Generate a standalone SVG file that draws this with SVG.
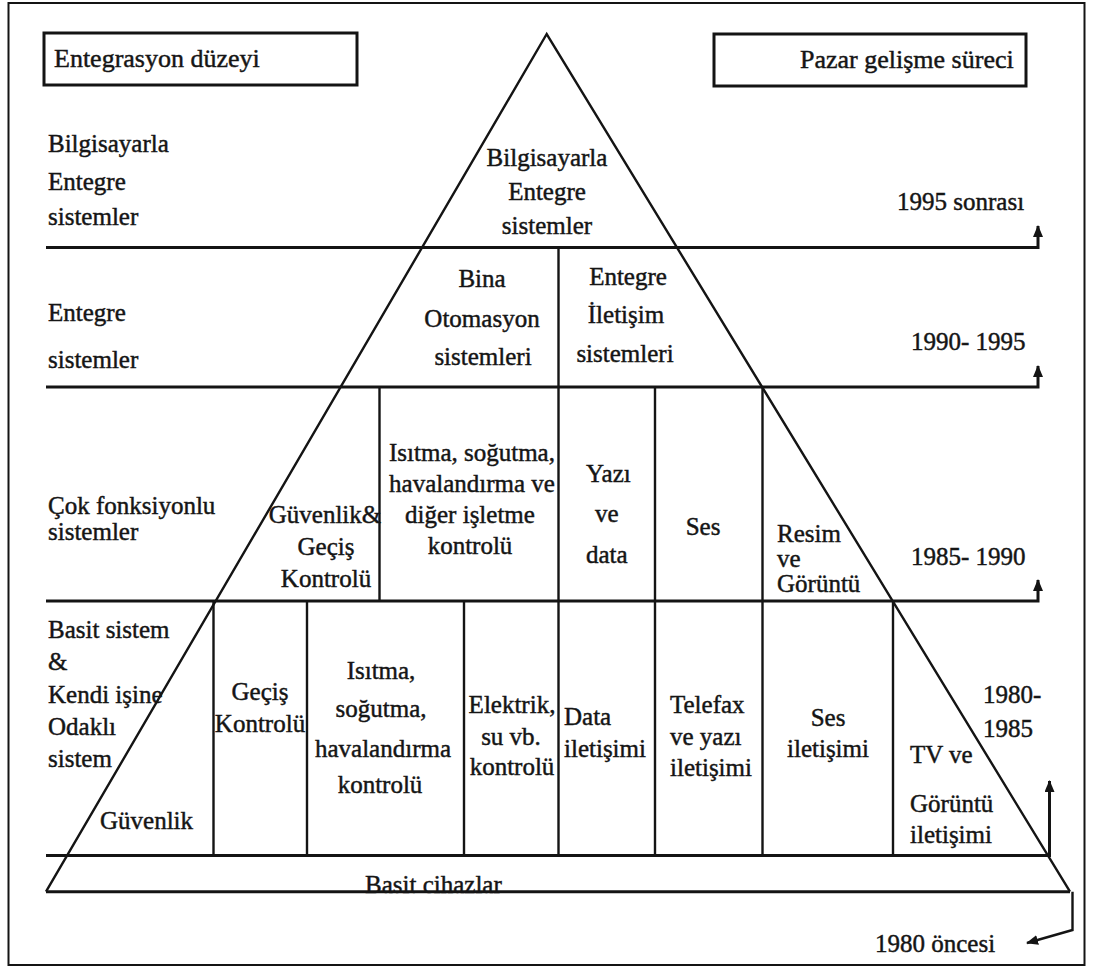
<svg xmlns="http://www.w3.org/2000/svg" width="1096" height="970" viewBox="0 0 1096 970">
  <style>
    .t { font-family: "Liberation Serif", "Times New Roman", serif; font-size: 25px; fill: #151515; stroke: #151515; stroke-width: 0.45; }
    .hd { font-size: 26px; }
    .c { text-anchor: middle; }
    .ln { stroke: #141414; stroke-width: 2.4; fill: none; stroke-linecap: butt; }
    .row { stroke: #141414; stroke-width: 3; fill: none; }
    .box { stroke: #141414; stroke-width: 3; fill: #fff; }
  </style>
  <defs>
    <marker id="arrow" viewBox="0 0 12 10" refX="11" refY="5" markerUnits="userSpaceOnUse" markerWidth="12" markerHeight="10" orient="auto">
      <path d="M0,0 L12,5 L0,10 z" fill="#141414"/>
    </marker>
  </defs>

  <rect width="1096" height="970" fill="#fff"/>

  <!-- outer frame -->
  <g id="frame">
    <rect x="8.5" y="3" width="1076" height="962" fill="none" stroke="#141414" stroke-width="2"/>
  </g>

  <!-- header boxes -->
  <g id="header-entegrasyon">
    <rect class="box" x="44" y="33" width="313" height="52"/>
    <text class="t hd" x="54" y="67">Entegrasyon düzeyi</text>
  </g>
  <g id="header-pazar">
    <rect class="box" x="714" y="34" width="312" height="52"/>
    <text class="t hd" x="800" y="68">Pazar gelişme süreci</text>
  </g>

  <!-- pyramid outline and cell dividers -->
  <g id="pyramid">
    <path class="ln" d="M46,891.7 L546.7,34 L1070,891.7"/>
    <line class="row" x1="46" y1="891.7" x2="1070" y2="891.7"/>
    <!-- row 2 divider -->
    <line class="ln" x1="558.5" y1="247.5" x2="558.5" y2="855.5"/>
    <!-- row 3 dividers -->
    <line class="ln" x1="379.5" y1="387" x2="379.5" y2="601"/>
    <line class="ln" x1="655" y1="387" x2="655" y2="855.5"/>
    <line class="ln" x1="762.5" y1="387" x2="762.5" y2="855.5"/>
    <!-- row 4 dividers -->
    <line class="ln" x1="213.5" y1="601" x2="213.5" y2="855.5"/>
    <line class="ln" x1="307" y1="601" x2="307" y2="855.5"/>
    <line class="ln" x1="464" y1="601" x2="464" y2="855.5"/>
    <line class="ln" x1="893" y1="601" x2="893" y2="855.5"/>
  </g>

  <!-- level lines with time arrows -->
  <g id="connectors">
    <path class="row" d="M46,247.5 H1038 V226" marker-end="url(#arrow)"/>
    <path class="row" d="M46,387 H1038 V366" marker-end="url(#arrow)"/>
    <path class="row" d="M46,601 H1038 V580" marker-end="url(#arrow)"/>
    <path class="row" d="M46,855.5 H1049.5 V781" marker-end="url(#arrow)"/>
    <path class="ln" d="M1072.5,891.7 V930 L1027,943" marker-end="url(#arrow)"/>
  </g>

  <!-- level labels (left) -->
  <g id="level-bilgisayarla">
    <text class="t" x="48" y="152">Bilgisayarla</text>
    <text class="t" x="48" y="190">Entegre</text>
    <text class="t" x="48" y="225">sistemler</text>
  </g>
  <g id="level-entegre">
    <text class="t" x="48" y="321">Entegre</text>
    <text class="t" x="48" y="368">sistemler</text>
  </g>
  <g id="level-cok-fonksiyonlu">
    <text class="t" x="48" y="514">Çok fonksiyonlu</text>
    <text class="t" x="48" y="540">sistemler</text>
  </g>
  <g id="level-basit">
    <text class="t" x="48" y="638">Basit sistem</text>
    <text class="t" x="48" y="670">&amp;</text>
    <text class="t" x="48" y="703">Kendi işine</text>
    <text class="t" x="48" y="735">Odaklı</text>
    <text class="t" x="48" y="767">sistem</text>
  </g>

  <!-- period labels (right) -->
  <g id="period-1995">
    <text class="t" x="897" y="210">1995 sonrası</text>
  </g>
  <g id="period-1990">
    <text class="t" x="911" y="350">1990- 1995</text>
  </g>
  <g id="period-1985">
    <text class="t" x="911" y="565">1985- 1990</text>
  </g>
  <g id="period-1980">
    <text class="t" x="983" y="703">1980-</text>
    <text class="t" x="983" y="737">1985</text>
  </g>
  <g id="period-before-1980">
    <text class="t" x="875" y="952">1980 öncesi</text>
  </g>

  <!-- apex -->
  <g id="cell-bilgisayarla-entegre">
    <text class="t c" x="547" y="166">Bilgisayarla</text>
    <text class="t c" x="547" y="200">Entegre</text>
    <text class="t c" x="547" y="234">sistemler</text>
  </g>

  <!-- row 2 -->
  <g id="cell-bina-otomasyon">
    <text class="t c" x="482" y="287">Bina</text>
    <text class="t c" x="482" y="327">Otomasyon</text>
    <text class="t c" x="483" y="365">sistemleri</text>
  </g>
  <g id="cell-entegre-iletisim">
    <text class="t c" x="628" y="285">Entegre</text>
    <text class="t c" x="626" y="323">İletişim</text>
    <text class="t c" x="625" y="362">sistemleri</text>
  </g>

  <!-- row 3 -->
  <g id="cell-guvenlik-gecis">
    <text class="t c" x="325" y="523">Güvenlik&amp;</text>
    <text class="t c" x="326" y="555">Geçiş</text>
    <text class="t c" x="326" y="587">Kontrolü</text>
  </g>
  <g id="cell-isitma-diger">
    <text class="t c" x="472" y="461">Isıtma, soğutma,</text>
    <text class="t c" x="472" y="492">havalandırma ve</text>
    <text class="t c" x="470" y="523">diğer işletme</text>
    <text class="t c" x="470" y="554">kontrolü</text>
  </g>
  <g id="cell-yazi-data">
    <text class="t" x="586" y="482">Yazı</text>
    <text class="t" x="595" y="522">ve</text>
    <text class="t" x="586" y="563">data</text>
  </g>
  <g id="cell-ses">
    <text class="t c" x="703" y="535">Ses</text>
  </g>
  <g id="cell-resim-goruntu">
    <text class="t" x="777" y="542">Resim</text>
    <text class="t" x="777" y="567">ve</text>
    <text class="t" x="777" y="592">Görüntü</text>
  </g>

  <!-- row 4 -->
  <g id="cell-guvenlik">
    <text class="t" x="100" y="829">Güvenlik</text>
  </g>
  <g id="cell-gecis-kontrolu">
    <text class="t c" x="260" y="700">Geçiş</text>
    <text class="t c" x="260" y="732">Kontrolü</text>
  </g>
  <g id="cell-isitma-kontrolu">
    <text class="t c" x="381" y="679">Isıtma,</text>
    <text class="t c" x="381" y="717">soğutma,</text>
    <text class="t c" x="383" y="757">havalandırma</text>
    <text class="t c" x="380" y="793">kontrolü</text>
  </g>
  <g id="cell-elektrik">
    <text class="t c" x="512" y="713">Elektrik,</text>
    <text class="t c" x="511" y="745">su vb.</text>
    <text class="t c" x="512" y="775">kontrolü</text>
  </g>
  <g id="cell-data-iletisimi">
    <text class="t" x="564" y="725">Data</text>
    <text class="t" x="564" y="757">iletişimi</text>
  </g>
  <g id="cell-telefax">
    <text class="t" x="670" y="713">Telefax</text>
    <text class="t" x="670" y="745">ve yazı</text>
    <text class="t" x="670" y="776">iletişimi</text>
  </g>
  <g id="cell-ses-iletisimi">
    <text class="t c" x="828" y="726">Ses</text>
    <text class="t c" x="828" y="757">iletişimi</text>
  </g>
  <g id="cell-tv-goruntu">
    <text class="t" x="910" y="763">TV ve</text>
    <text class="t" x="910" y="812">Görüntü</text>
    <text class="t" x="910" y="843">iletişimi</text>
  </g>

  <!-- base -->
  <g id="cell-basit-cihazlar">
    <text class="t" x="365" y="893">Basit cihazlar</text>
  </g>
</svg>
